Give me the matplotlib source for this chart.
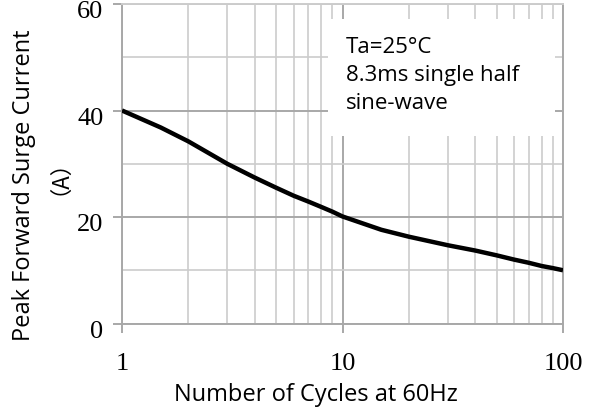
import matplotlib
matplotlib.use('Agg')
from matplotlib import pyplot as plt
from matplotlib.patches import Rectangle
from matplotlib.ticker import LogLocator, FixedLocator, NullFormatter
from matplotlib.transforms import ScaledTranslation

# Data
cycles = [1, 1.5, 2, 3, 4, 5, 6, 7, 8, 9, 10, 15, 20, 30, 40, 50, 60, 70, 80, 90, 100]
current = [40.0, 36.8, 34.2, 30.0, 27.4, 25.5, 24.0, 22.9, 21.9, 21.0, 20.1,
           17.6, 16.3, 14.7, 13.7, 12.8, 12.0, 11.4, 10.8, 10.4, 10.0]

x_ticks = [1, 10, 100]
x_tick_labels = ['1', '10', '100']
y_ticks = [0, 20, 40, 60]
y_tick_labels = ['0', '20', '40', '60']

label_font = ['Open Sans', 'Noto Sans CJK SC']
tick_font = 'Liberation Serif'
grid_major = '#a8a8a8'
grid_minor = '#cccccc'

fig = plt.figure(figsize=(5.92, 4.14), dpi=100)
ax = fig.add_axes([122 / 592, 1 - 324.5 / 414, (563 - 122) / 592, (324.5 - 5) / 414])

ax.set_xscale('log')
ax.set_xlim(1, 100)
ax.set_ylim(0, 60)

# grid
ax.xaxis.set_minor_locator(LogLocator(base=10, subs=range(2, 10)))
ax.xaxis.set_minor_formatter(NullFormatter())
ax.yaxis.set_minor_locator(FixedLocator([10, 30, 50]))
ax.grid(which='major', color=grid_major, linewidth=1.4)
ax.grid(which='minor', color=grid_minor, linewidth=1.2)
ax.set_axisbelow(True)

ax.plot(cycles, current, color='black', linewidth=3.2, solid_capstyle='butt', zorder=3)

ax.set_xticks(x_ticks)
ax.set_xticklabels(x_tick_labels, fontfamily=tick_font, fontsize=19)
ax.set_yticks(y_ticks)
ax.set_yticklabels(y_tick_labels, fontfamily=tick_font, fontsize=19)
ax.tick_params(which='major', direction='out', length=6.5, width=1.4, color=grid_major)
ax.tick_params(axis='x', which='major', pad=14)
ax.tick_params(axis='y', which='major', pad=7)
ax.tick_params(which='minor', length=0)
# labels sit a little below their ticks in the reference
for lab in ax.get_yticklabels():
    lab.set_transform(lab.get_transform() + ScaledTranslation(0, -5 / 100, fig.dpi_scale_trans))

for side in ['left', 'right', 'bottom', 'top']:
    ax.spines[side].set_color(grid_major)
    ax.spines[side].set_linewidth(1.4)
ax.spines['top'].set_color(grid_minor)

fig.text(316 / 592, 1 - 395 / 414, 'Number of Cycles at 60Hz', fontfamily=label_font,
         fontsize=17, ha='center', va='center')
fig.text(24 / 592, 1 - 185 / 414, 'Peak Forward Surge Current', fontfamily=label_font,
         fontsize=17, ha='center', va='center', rotation=90)
fig.text(48 / 592, 1 - 166 / 414, '\uff08A\uff09', fontfamily=['Noto Sans CJK SC'],
         fontsize=16, ha='center', va='center', rotation=90)

# white box behind the note
ax.add_patch(Rectangle((0.467, 0.587), 0.515, 0.366, transform=ax.transAxes,
                       facecolor='white', edgecolor='none', zorder=2.5))
ax.text(0.508, 0.9, 'Ta=25\u00b0C\n8.3ms single half\nsine-wave', transform=ax.transAxes,
        fontfamily=label_font, fontsize=16, va='top', ha='left', linespacing=1.45, zorder=4)

fig.savefig('out.png', dpi=100)
